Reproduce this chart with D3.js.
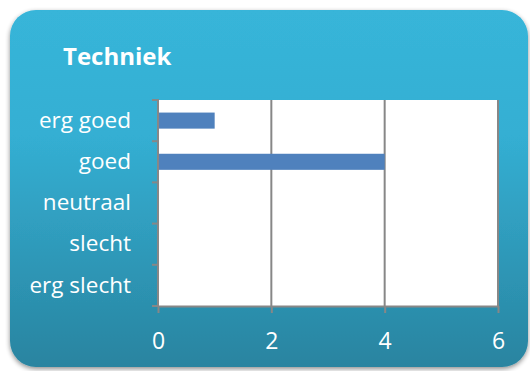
<!DOCTYPE html>
<html>
<head>
<meta charset="utf-8">
<script src="https://cdn.jsdelivr.net/npm/d3@7"></script>
<style>
  html, body { margin: 0; padding: 0; background: #ffffff; }
  svg { display: block; }
  text { font-family: "Open Sans", "Noto Sans", sans-serif; }
</style>
</head>
<body>
<svg id="chart" width="530" height="371"></svg>
<script>
// Beoordelingen (van boven naar beneden) en aantal antwoorden
const categories = ["erg goed", "goed", "neutraal", "slecht", "erg slecht"];
const values = [1, 4, 0, 0, 0];
const xTicks = [0, 2, 4, 6];
const title = "Techniek";

const svg = d3.select("#chart");

const defs = svg.append("defs");
const grad = defs.append("linearGradient")
  .attr("id", "panelGrad").attr("x1", 0).attr("y1", 0).attr("x2", 0).attr("y2", 1);
grad.append("stop").attr("offset", "0").attr("stop-color", "#37b5d9");
grad.append("stop").attr("offset", "0.35").attr("stop-color", "#34afd3");
grad.append("stop").attr("offset", "1").attr("stop-color", "#2984a0");

const shadow = defs.append("filter").attr("id", "shadow")
  .attr("x", "-10%").attr("y", "-10%").attr("width", "120%").attr("height", "120%");
shadow.append("feGaussianBlur").attr("in", "SourceAlpha").attr("stdDeviation", 2.5);
shadow.append("feOffset").attr("dx", 0).attr("dy", 2).attr("result", "b");
shadow.append("feComponentTransfer").append("feFuncA").attr("type", "linear").attr("slope", 0.45);
const merge = shadow.append("feMerge");
merge.append("feMergeNode");
merge.append("feMergeNode").attr("in", "SourceGraphic");

// Achtergrondpaneel met afgeronde hoeken
svg.append("rect")
  .attr("x", 10).attr("y", 10).attr("width", 518).attr("height", 357)
  .attr("rx", 26).attr("ry", 26)
  .attr("fill", "url(#panelGrad)")
  .attr("filter", "url(#shadow)");

// Titel
svg.append("text")
  .attr("x", 63).attr("y", 65)
  .attr("fill", "#ffffff")
  .attr("font-size", 24).attr("font-weight", "bold")
  .text(title);

const plot = { left: 158, right: 498, top: 100, bottom: 306 };

const x = d3.scaleLinear().domain([0, 6]).range([plot.left, plot.right]);
const y = d3.scaleBand().domain(categories).range([plot.top, plot.bottom])
  .paddingInner(0.61).paddingOuter(0.305);
const yOuter = d3.scaleBand().domain(categories).range([plot.top, plot.bottom]);

// Plotgebied
svg.append("rect")
  .attr("x", plot.left).attr("y", plot.top)
  .attr("width", plot.right - plot.left).attr("height", plot.bottom - plot.top)
  .attr("fill", "#ffffff");

// Verticale rasterlijnen
svg.append("g").selectAll("line")
  .data(xTicks.filter(d => d > 0))
  .join("line")
  .attr("x1", d => x(d)).attr("x2", d => x(d))
  .attr("y1", plot.top).attr("y2", plot.bottom)
  .attr("stroke", "#878787").attr("stroke-width", 2);

// Balken
svg.append("g").selectAll("rect")
  .data(categories.map((c, i) => ({ c, v: values[i] })).filter(d => d.v > 0))
  .join("rect")
  .attr("x", x(0))
  .attr("y", d => y(d.c))
  .attr("width", d => x(d.v) - x(0))
  .attr("height", y.bandwidth())
  .attr("fill", "#4f81bd");

// X-as
const xAxis = svg.append("g")
  .attr("transform", `translate(0,${plot.bottom})`)
  .call(d3.axisBottom(x).tickValues(xTicks).tickFormat(d3.format("d"))
    .tickSize(7).tickPadding(20).tickSizeOuter(0));
xAxis.select(".domain").attr("stroke", "#878787").attr("stroke-width", 2);
xAxis.selectAll(".tick line").attr("stroke", "#878787").attr("stroke-width", 2);
xAxis.selectAll(".tick text")
  .attr("fill", "#ffffff").attr("font-size", 23)
  .style("font-family", "'Open Sans', sans-serif");

// Y-as met streepjes tussen de categorieën
const yAxis = svg.append("g")
  .attr("transform", `translate(${plot.left},0)`)
  .call(d3.axisLeft(yOuter).tickSize(0).tickPadding(27));
yAxis.select(".domain").remove();
yAxis.append("line")
  .attr("x1", 0).attr("x2", 0).attr("y1", plot.top - 1).attr("y2", plot.bottom + 1)
  .attr("stroke", "#878787").attr("stroke-width", 2);
const bounds = categories.map(c => yOuter(c)).concat([plot.bottom]);
yAxis.selectAll(".sep")
  .data(bounds)
  .join("line")
  .attr("class", "sep")
  .attr("x1", -6).attr("x2", 0)
  .attr("y1", d => d).attr("y2", d => d)
  .attr("stroke", "#878787").attr("stroke-width", 2);
yAxis.selectAll(".tick text")
  .attr("fill", "#ffffff").attr("font-size", 22.5)
  .style("font-family", "'Open Sans', sans-serif");
</script>
</body>
</html>
